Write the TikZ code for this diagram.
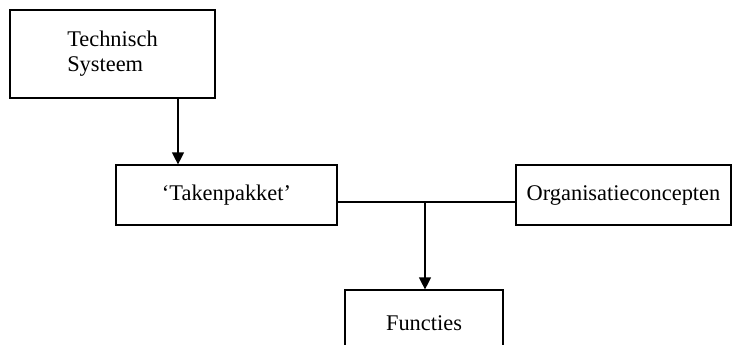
\documentclass[tikz,border=0pt]{standalone}
\usepackage{fontspec}
\setmainfont{Liberation Serif}
\usetikzlibrary{arrows.meta}

\begin{document}
\begin{tikzpicture}[x=0.5pt,y=-0.5pt,
		box/.style={draw,line width=0.6pt,inner sep=0pt,font=\fontsize{11.2}{12.5}\selectfont},
		flow/.style={-{Triangle[length=6pt,width=6pt]},line width=0.6pt}]
		\clip (0,0) rectangle (732,344);
		\node[box,minimum width=102.5pt,minimum height=44pt,align=left] (tech) at(112.5,54) {Technisch\\Systeem};
		\node[box,minimum width=110.5pt,minimum height=30pt] (task) at(226.5,195) {`Takenpakket'};
		\node[box,minimum width=107.5pt,minimum height=30pt] (org) at(623.5,195) {Organisatieconcepten};
		\node[box,minimum width=79pt,minimum height=33pt] (func) at(424,323) {Functies};
		\coordinate (a) at(178,0);
		\coordinate (j) at(425,202);
		
		\draw[flow] (tech.south -| a) -- (task.north -| a);
		\draw[line width=0.6pt] (task.east |- j) -- (org.west |- j);
		\draw[flow] (j) -- (func.north -| j);
		\end{tikzpicture}
\end{document}
